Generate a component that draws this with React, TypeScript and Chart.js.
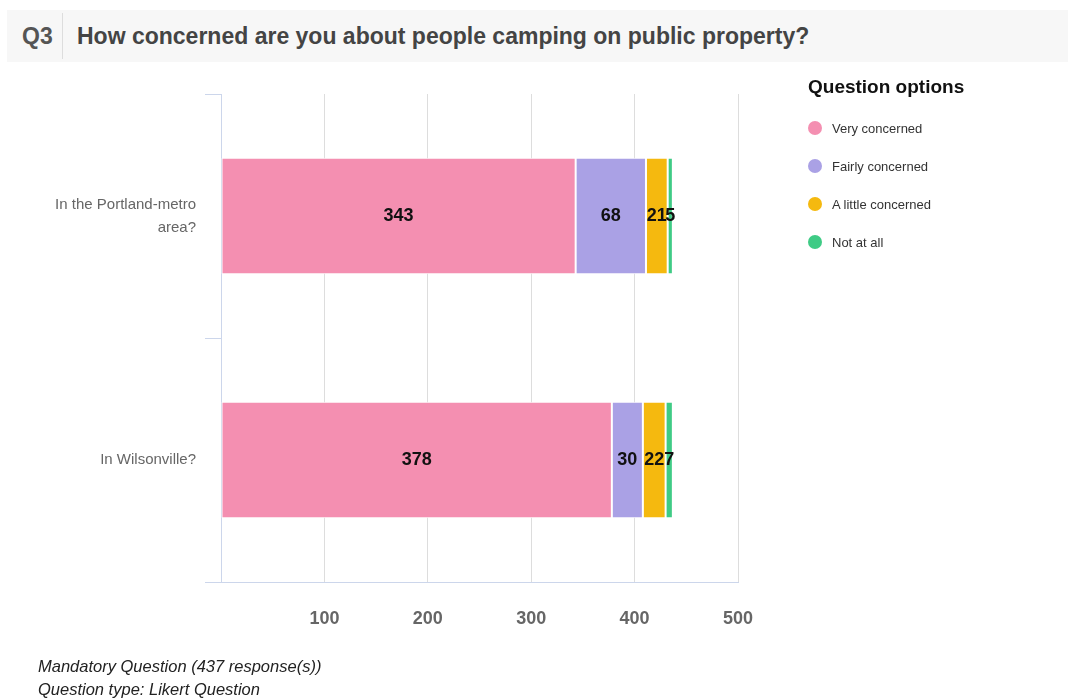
import React, { useEffect, useRef } from "react";
import { Chart, registerables } from "chart.js";

Chart.register(...registerables);

const categories: string[][] = [["In the Portland-metro", "area?"], ["In Wilsonville?"]];
const seriesNames = ["Very concerned", "Fairly concerned", "A little concerned", "Not at all"];
const veryConcerned = [343, 378];
const fairlyConcerned = [68, 30];
const littleConcerned = [21, 22];
const notAtAll = [5, 7];
const xTicks = [0, 100, 200, 300, 400, 500];
const colors = ["#f48fb1", "#aaa1e5", "#f5b90f", "#3fcb85"];

const FONT = '"Liberation Sans", Arial, Helvetica, sans-serif';

const dataLabelPlugin = {
  id: "dataLabels",
  afterDatasetsDraw(chart: any) {
    const ctx = chart.ctx;
    ctx.save();
    ctx.font = `bold 18px ${FONT}`;
    ctx.fillStyle = "#111";
    ctx.textAlign = "center";
    ctx.textBaseline = "middle";
    chart.data.datasets.forEach((ds: any, i: number) => {
      const meta = chart.getDatasetMeta(i);
      meta.data.forEach((el: any, j: number) => {
        const v = ds.data[j];
        const cx = (el.base + el.x) / 2;
        ctx.fillText(String(v), cx, el.y);
      });
    });
    ctx.restore();
  },
};

export default function App() {
  const ref = useRef<HTMLCanvasElement>(null);
  useEffect(() => {
    if (!ref.current) return;
    const values = [veryConcerned, fairlyConcerned, littleConcerned, notAtAll];
    const chart = new Chart(ref.current, {
      type: "bar",
      data: {
        labels: categories as any,
        datasets: seriesNames.map((n, i) => ({
          label: n,
          data: values[i],
          backgroundColor: colors[i],
          borderColor: "#ffffff",
          borderWidth: 1,
          borderSkipped: false,
          categoryPercentage: 1,
          barPercentage: 0.478,
        })),
      },
      options: {
        indexAxis: "y",
        animation: false,
        responsive: false,
        maintainAspectRatio: false,
        layout: { padding: { top: 94, right: 330, bottom: 0, left: 0 } },
        plugins: { legend: { display: false }, tooltip: { enabled: false } },
        scales: {
          x: {
            stacked: true,
            min: xTicks[0],
            max: xTicks[xTicks.length - 1],
            afterBuildTicks: (scale: any) => {
              scale.ticks = xTicks.map((v) => ({ value: v }));
            },
            afterFit: (scale: any) => {
              scale.height = 118;
            },
            grid: { color: "#dddddd", lineWidth: 1, drawTicks: false },
            border: { color: "#ccd6eb", width: 1 },
            ticks: {
              padding: 26,
              color: "#666666",
              font: { family: FONT, size: 18, weight: "bold" },
              callback: (v: any) => (v === 0 ? "" : String(v)),
            },
          },
          y: {
            stacked: true,
            afterFit: (scale: any) => {
              scale.width = 221;
            },
            grid: {
              offset: true,
              drawOnChartArea: false,
              tickLength: 16,
              color: "#ccd6eb",
            },
            border: { color: "#ccd6eb", width: 1 },
            ticks: {
              padding: 9,
              color: "#666666",
              font: { family: FONT, size: 15, lineHeight: 1.55 },
            },
          },
        },
      },
      plugins: [dataLabelPlugin],
    });
    return () => chart.destroy();
  }, []);

  return (
    <div style={{ position: "absolute", left: 0, top: 0, width: 1068, height: 700, background: "#fff", fontFamily: FONT, overflow: "hidden" }}>
      <div style={{ position: "absolute", left: 7, top: 10, width: 1061, height: 52, background: "#f7f7f7" }}>
        <div style={{ position: "absolute", left: 15, top: 12, fontSize: 23, fontWeight: "bold", color: "#555", lineHeight: "28px" }}>Q3</div>
        <div style={{ position: "absolute", left: 55, top: 3, width: 1, height: 46, background: "#dddddd" }} />
        <div style={{ position: "absolute", left: 70, top: 12, fontSize: 23, fontWeight: "bold", color: "#444", lineHeight: "28px" }}>
          How concerned are you about people camping on public property?
        </div>
      </div>
      <canvas ref={ref} width={1068} height={700} style={{ position: "absolute", left: 0, top: 0, width: 1068, height: 700 }} />
      <div style={{ position: "absolute", left: 808, top: 75, fontSize: 19, fontWeight: "bold", color: "#111", lineHeight: "24px" }}>Question options</div>
      {seriesNames.map((n, i) => (
        <div key={n} style={{ position: "absolute", left: 808, top: 120 + i * 38, height: 16, display: "flex", alignItems: "center" }}>
          <div style={{ width: 14, height: 14, borderRadius: 7, background: colors[i] }} />
          <div style={{ marginLeft: 10, fontSize: 13, color: "#333" }}>{n}</div>
        </div>
      ))}
      <div style={{ position: "absolute", left: 38, top: 655, fontSize: 16.5, fontStyle: "italic", color: "#222", lineHeight: "23px" }}>
        Mandatory Question (437 response(s))
        <br />
        Question type: Likert Question
      </div>
    </div>
  );
}
